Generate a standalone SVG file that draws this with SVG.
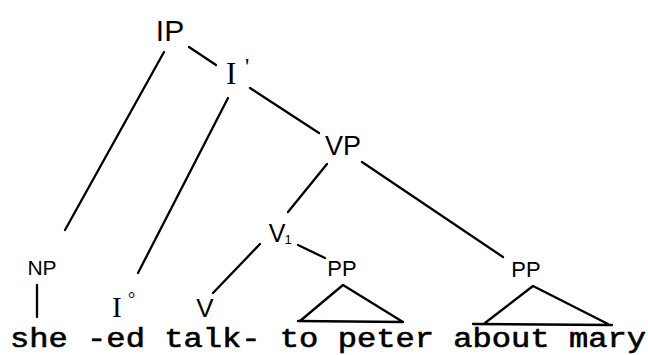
<svg xmlns="http://www.w3.org/2000/svg" width="648" height="355" viewBox="0 0 648 355">
<style>
.e{stroke:#000;stroke-width:2.3;fill:none;stroke-linecap:round;stroke-linejoin:round}
.l{font-family:"Liberation Sans",Arial,sans-serif;fill:#000;text-anchor:middle}
.s{font-family:"Liberation Serif","Times New Roman",serif;fill:#000}
.w{font-family:"Liberation Mono","Courier New",monospace;font-size:27px;fill:#000;stroke:#000;stroke-width:0.6}
</style>
<rect width="648" height="355" fill="#fff"/>
<g id="connectors">
<line class="e" x1="164" y1="52" x2="65" y2="230"/>
<line class="e" x1="189" y1="47" x2="216" y2="65"/>
<line class="e" x1="228" y1="98" x2="138" y2="273"/>
<line class="e" x1="250" y1="88" x2="319" y2="133"/>
<line class="e" x1="327" y1="164" x2="288" y2="212"/>
<line class="e" x1="362" y1="162" x2="503" y2="257"/>
<line class="e" x1="260" y1="244" x2="213" y2="293"/>
<line class="e" x1="298" y1="245" x2="325" y2="258"/>
<line class="e" x1="37" y1="285" x2="37" y2="317"/>
<path class="e" d="M300,321 L343,285 L403,322 M298,321 L403,322"/>
<path class="e" d="M485,323 L533,286 L608,324 M473,324 L612,325"/>
</g>
<g id="IP"><text class="l" x="170" y="41" font-size="30">IP</text></g>
<g id="Ibar"><text class="s" x="226" y="84" font-size="31">I</text><text class="s" x="245" y="74" font-size="24">'</text></g>
<g id="VP"><text class="l" x="343" y="155" font-size="27">VP</text></g>
<g id="V1"><text class="l" x="277" y="242" font-size="25">V</text><text class="l" x="288" y="244" font-size="13">1</text></g>
<g id="PP1"><text class="l" x="342" y="276" font-size="22">PP</text></g>
<g id="PP2"><text class="l" x="526" y="277" font-size="22">PP</text></g>
<g id="NP"><text class="l" x="42" y="275" font-size="21">NP</text></g>
<g id="I0"><text class="s" x="112" y="317" font-size="29">I</text><text class="s" x="128" y="305" font-size="18">°</text></g>
<g id="V"><text class="l" x="205" y="317" font-size="26">V</text></g>
<g id="words"><text class="w" x="10" y="347" textLength="636" lengthAdjust="spacingAndGlyphs">she -ed talk- to peter about mary</text></g>
</svg>
